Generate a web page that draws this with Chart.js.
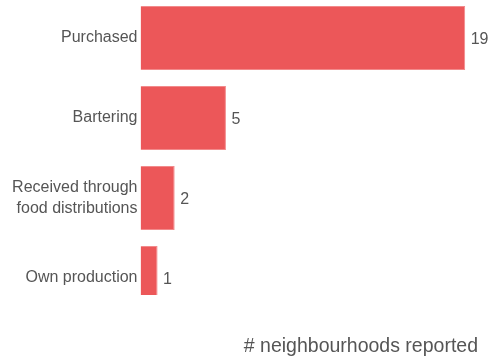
<!DOCTYPE html>
<html>
<head>
<meta charset="utf-8">
<script src="https://cdn.jsdelivr.net/npm/chart.js@4"></script>
<style>
  html, body { margin: 0; padding: 0; background: #fff; }
  #wrap { width: 488px; height: 358px; }
</style>
</head>
<body>
<div id="wrap"><canvas id="bar-chart-sources"></canvas></div>
<script>
// data
var categories = ['Purchased', 'Bartering', ['Received through', 'food distributions'], 'Own production'];
var counts = [19, 5, 2, 1];
var axisTitle = '# neighbourhoods reported';
var xMax = 19.75;

var red = '#ec5759';
var textColor = '#555555';
var fontFamily = '"Liberation Sans", Arial, sans-serif';

// value labels at the end of each bar
var valueLabels = {
  id: 'valueLabels',
  afterLayout: function(chart) {
    // pull the plot area up a little (layout padding can't go negative)
    var y = chart.scales.y;
    y.top -= 2;
    y.height += 2;
    y.configure();
    chart.chartArea.top = y.top;
    chart.chartArea.height = chart.chartArea.bottom - chart.chartArea.top;
  },
  afterDatasetsDraw: function(chart) {
    var ctx = chart.ctx;
    var meta = chart.getDatasetMeta(0);
    ctx.save();
    ctx.font = '16px ' + fontFamily;
    ctx.fillStyle = textColor;
    ctx.textAlign = 'left';
    ctx.textBaseline = 'middle';
    meta.data.forEach(function(bar, i) {
      ctx.fillText(String(counts[i]), bar.x + 5.5, bar.y + 2);
    });
    ctx.restore();
  }
};

new Chart(document.getElementById('bar-chart-sources'), {
  type: 'bar',
  data: {
    labels: categories,
    datasets: [{
      data: counts,
      backgroundColor: red,
      borderColor: '#f28a8b',
      borderWidth: 1,
      barPercentage: 0.8,
      categoryPercentage: 1,
      // the last bar gets cut off by the plot edge, as in the original
      clip: { left: 0, top: 5, right: 30, bottom: -23 }
    }]
  },
  options: {
    indexAxis: 'y',
    responsive: true,
    maintainAspectRatio: false,
    animation: false,
    layout: { padding: { top: 0, right: 10, left: 0, bottom: 0 } },
    plugins: {
      legend: { display: false },
      tooltip: { enabled: false }
    },
    scales: {
      x: {
        min: 0,
        max: xMax,
        grid: { display: false, drawTicks: false },
        border: { display: false },
        ticks: { display: false },
        title: {
          display: true,
          text: axisTitle,
          align: 'end',
          color: textColor,
          font: { family: fontFamily, size: 19.5 },
          padding: { top: 0, bottom: 0 }
        },
        afterFit: function(scale) {
          scale.height = 40;
          scale.paddingLeft = 0;
          scale.paddingRight = 0;
        }
      },
      y: {
        grid: { display: false, drawTicks: false },
        border: { display: false },
        ticks: {
          color: textColor,
          font: { family: fontFamily, size: 16, lineHeight: 1.35 },
          padding: 3
        },
        afterFit: function(scale) {
          scale.width = 140.5;
          scale.paddingTop = 0;
          scale.paddingBottom = 0;
        }
      }
    }
  },
  plugins: [valueLabels]
});
</script>
</body>
</html>
